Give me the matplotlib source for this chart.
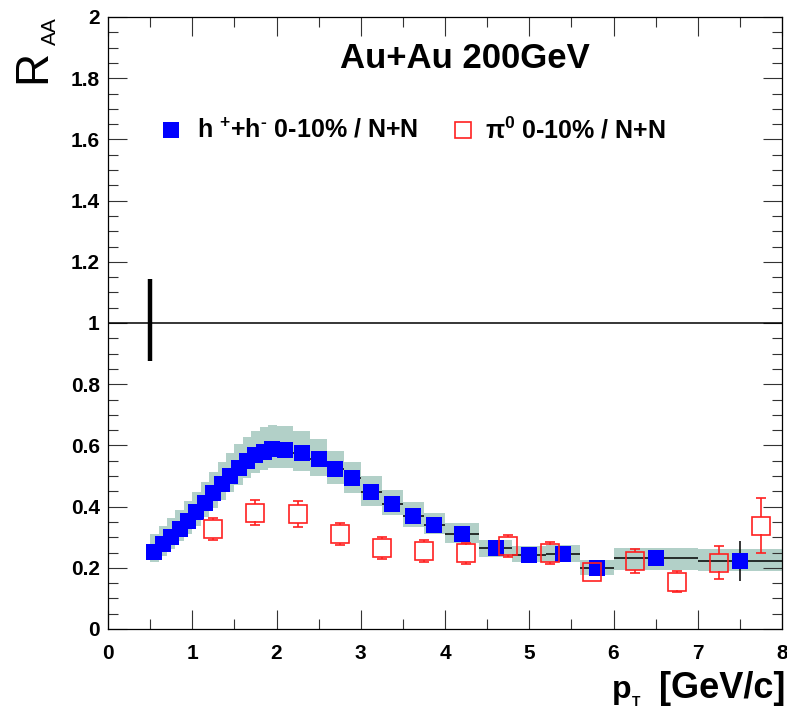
import matplotlib
matplotlib.use("Agg")
import matplotlib.pyplot as plt
import numpy as np

plt.rcParams['font.family'] = ['Liberation Sans', 'DejaVu Sans']
plt.rcParams['mathtext.default'] = 'regular'

# ---------------- data ----------------
h_pt = [0.55, 0.65, 0.75, 0.85, 0.95, 1.05, 1.15, 1.25, 1.35, 1.45, 1.55, 1.65, 1.75, 1.85, 1.95,
        2.1, 2.3, 2.5, 2.7, 2.9, 3.125, 3.375, 3.625, 3.875, 4.2, 4.6, 5.0, 5.4, 5.8, 6.5, 7.5]
h_halfbin = [0.05] * 15 + [0.1] * 5 + [0.125] * 4 + [0.2] * 5 + [0.5] * 2
h_raa = [0.253, 0.277, 0.302, 0.327, 0.354, 0.382, 0.412, 0.443, 0.473, 0.501, 0.527, 0.550, 0.568, 0.580, 0.587,
         0.585, 0.574, 0.555, 0.522, 0.492, 0.447, 0.408, 0.370, 0.340, 0.310, 0.264, 0.242, 0.245, 0.198, 0.232, 0.221]
h_stat = [0.004] * 29 + [0.012, 0.065]
h_sys_up = [0.056, 0.058, 0.060, 0.062, 0.064, 0.066, 0.068, 0.070, 0.072, 0.074, 0.076, 0.078, 0.079, 0.080, 0.080,
            0.078, 0.074, 0.066, 0.060, 0.055, 0.052, 0.047, 0.045, 0.040, 0.037, 0.027, 0.029, 0.028, 0.027, 0.034, 0.039]
h_sys_dn = [0.035, 0.037, 0.039, 0.041, 0.043, 0.045, 0.047, 0.049, 0.051, 0.053, 0.055, 0.057, 0.058, 0.059, 0.060,
            0.060, 0.057, 0.055, 0.049, 0.049, 0.045, 0.036, 0.036, 0.030, 0.030, 0.028, 0.022, 0.025, 0.022, 0.039, 0.031]

pi_pt = [1.25, 1.75, 2.25, 2.75, 3.25, 3.75, 4.25, 4.75, 5.25, 5.75, 6.25, 6.75, 7.25, 7.75]
pi_raa = [0.327, 0.380, 0.376, 0.310, 0.265, 0.255, 0.247, 0.271, 0.247, 0.186, 0.223, 0.155, 0.217, 0.338]
pi_err = [0.036, 0.041, 0.043, 0.037, 0.037, 0.036, 0.033, 0.037, 0.036, 0.015, 0.040, 0.035, 0.054, 0.090]

norm_x = 0.5
norm_lo, norm_hi = 0.875, 1.145

x_ticks = [0, 1, 2, 3, 4, 5, 6, 7, 8]
y_ticks = [0, 0.2, 0.4, 0.6, 0.8, 1.0, 1.2, 1.4, 1.6, 1.8, 2.0]
y_ticklabels = ['0', '0.2', '0.4', '0.6', '0.8', '1', '1.2', '1.4', '1.6', '1.8', '2']

# ---------------- figure ----------------
W, H = 787, 708
fig = plt.figure(figsize=(W / 100, H / 100), dpi=100)
ax = fig.add_axes([108 / W, 1 - 629 / H, 674 / W, 612 / H])
ax.set_xlim(0, 8)
ax.set_ylim(0, 2)

band_col = '#b2d0c8'
for x, hb, v, su, sd in zip(h_pt, h_halfbin, h_raa, h_sys_up, h_sys_dn):
    ax.fill_between([x - hb, x + hb], [v - sd, v - sd], [v + su, v + su],
                    color=band_col, lw=0, zorder=1)

ax.axhline(1.0, color='black', lw=1.1, zorder=2)
ax.vlines(norm_x, norm_lo, norm_hi, color='black', lw=3.2, zorder=2)

ax.errorbar(h_pt, h_raa, xerr=h_halfbin, yerr=h_stat, fmt='none', ecolor='black',
            elinewidth=1.1, capsize=0, zorder=3)
ax.plot(h_pt, h_raa, 's', color='#0000ff', ms=12.2, mec='#0000ff', mew=0, zorder=4)

# pi0 open squares with error bars outside the marker
ms_pt = 12.6
fig.canvas.draw()
px_per_unit = ax.transData.transform((0, 1))[1] - ax.transData.transform((0, 0))[1]
gap = (ms_pt * 100 / 72 / 2) / px_per_unit
for x, v, e in zip(pi_pt, pi_raa, pi_err):
    if e > gap:
        ax.vlines(x, v + gap, v + e, color='#ff2020', lw=1.2, zorder=5)
        ax.vlines(x, v - e, v - gap, color='#ff2020', lw=1.2, zorder=5)
        ax.hlines([v - e, v + e], x - 0.06, x + 0.06, color='#ff2020', lw=1.2, zorder=5)
ax.plot(pi_pt, pi_raa, 's', mfc='none', mec='#ff2020', mew=1.2, ms=ms_pt, zorder=6)

# ticks
ax.set_xticks(x_ticks)
ax.set_xticks(np.arange(0.5, 8, 1.0), minor=True)
ax.set_yticks(y_ticks)
ax.set_yticklabels(y_ticklabels)
ax.set_yticks(np.arange(0, 2.0001, 0.05), minor=True)
ax.tick_params(which='both', direction='in', top=True, right=True, color='#333333', width=0.8)
ax.tick_params(which='major', length=14)
ax.tick_params(which='minor', length=7)
ax.tick_params(axis='x', which='major', labelsize=15, pad=11)
ax.tick_params(axis='y', which='major', labelsize=15, pad=6)
for lab in ax.get_xticklabels() + ax.get_yticklabels():
    lab.set_fontweight('bold')
for s in ax.spines.values():
    s.set_linewidth(0.9)

# texts
ax.text(0.344, 0.917, 'Au+Au 200GeV', transform=ax.transAxes, fontsize=25,
        fontweight='bold', va='baseline', ha='left')

# legend (manual)
ax.plot([0.0935], [0.815], 's', color='#0000ff', ms=12, mew=0, transform=ax.transAxes, clip_on=False)
ax.text(0.132, 0.815, 'h $^{+}$+h$^{\u2010}$ 0-10% / N+N', transform=ax.transAxes, fontsize=18,
        fontweight='bold', va='center', ha='left')
ax.plot([0.526], [0.815], 's', mfc='none', mec='#ff2020', mew=1.2, ms=12, transform=ax.transAxes,
        clip_on=False)
ax.text(0.559, 0.815, r'π$^{0}$ 0-10% / N+N', transform=ax.transAxes, fontsize=18,
        fontweight='bold', va='center', ha='left')

# y label R_AA
fig.text(33 / W, 1 - 66 / H, 'R', rotation=90, fontsize=33, ha='center', va='center')
fig.text(50 / W, 1 - 31 / H, 'AA', rotation=90, fontsize=15, ha='center', va='center')

# x label p_T [GeV/c]
fig.text(785 / W, 1 - 698 / H, '[GeV/c]', fontsize=26, fontweight='bold', ha='right', va='baseline')
fig.text(612 / W, 1 - 698 / H, 'p', fontsize=23, fontweight='bold', ha='left', va='baseline')
fig.text(632 / W, 1 - 706 / H, 'T', fontsize=10, fontweight='bold', ha='left', va='baseline')

fig.savefig('out.png', dpi=100)
